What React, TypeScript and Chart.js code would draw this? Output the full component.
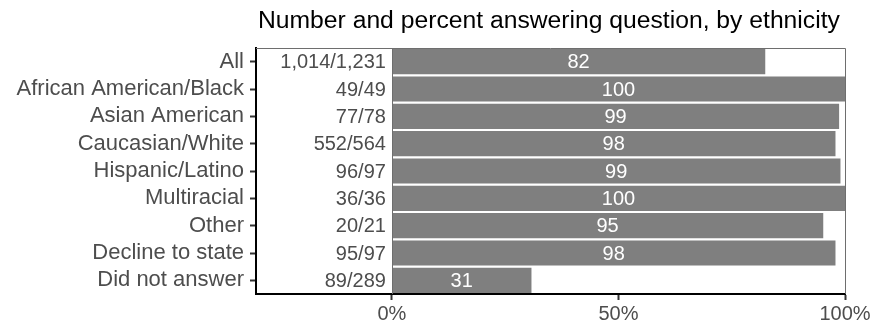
import React, { useEffect, useRef } from "react";
import { Chart, registerables } from "chart.js";

Chart.register(...registerables);

const categories = [
  "All",
  "African American/Black",
  "Asian American",
  "Caucasian/White",
  "Hispanic/Latino",
  "Multiracial",
  "Other",
  "Decline to state",
  "Did not answer",
];
const percentValues = [82.4, 100, 98.7, 97.9, 99.0, 100, 95.2, 97.9, 30.8];
const percentLabels = ["82", "100", "99", "98", "99", "100", "95", "98", "31"];
const countLabels = [
  "1,014/1,231",
  "49/49",
  "77/78",
  "552/564",
  "96/97",
  "36/36",
  "20/21",
  "95/97",
  "89/289",
];
const xTicks = [0, 50, 100];
const titleText = "Number and percent answering question, by ethnicity";

const FONT = "'Liberation Sans', Arial, Helvetica, sans-serif";
const YLABEL_SIZE = 22;
const NUM_SIZE = 20;
const TITLE_SIZE = 24.7;

const overlayPlugin = {
  id: "overlay",
  afterDatasetsDraw(chart: any) {
    const { ctx, chartArea, scales } = chart;
    const xs = scales.x;
    const ys = scales.y;
    ctx.save();
    ctx.strokeStyle = "#6e6e6e";
    ctx.lineWidth = 1;
    ctx.beginPath();
    ctx.moveTo(chartArea.left, chartArea.top + 0.5);
    ctx.lineTo(chartArea.right + 0.5, chartArea.top + 0.5);
    ctx.lineTo(chartArea.right + 0.5, chartArea.bottom);
    const x0 = Math.round(xs.getPixelForValue(0)) + 0.5;
    ctx.moveTo(x0, chartArea.top);
    ctx.lineTo(x0, chartArea.bottom);
    ctx.stroke();

    ctx.font = `${NUM_SIZE}px ${FONT}`;
    ctx.textBaseline = "middle";
    categories.forEach((_, i) => {
      const y = ys.getPixelForValue(i);
      ctx.fillStyle = "#4d4d4d";
      ctx.textAlign = "right";
      ctx.fillText(countLabels[i], xs.getPixelForValue(0) - 6, y + 1);
      ctx.fillStyle = "#ffffff";
      ctx.textAlign = "center";
      ctx.fillText(percentLabels[i], xs.getPixelForValue(percentValues[i] / 2), y + 1);
    });
    ctx.restore();
  },
  afterDraw(chart: any) {
    const { ctx, chartArea } = chart;
    ctx.save();
    ctx.font = `${TITLE_SIZE}px ${FONT}`;
    ctx.fillStyle = "#000000";
    ctx.textAlign = "left";
    ctx.textBaseline = "alphabetic";
    ctx.fillText(titleText, chartArea.left + 2, 28);
    ctx.restore();
  },
};

export default function App() {
  const canvasRef = useRef<HTMLCanvasElement | null>(null);

  useEffect(() => {
    document.body.style.margin = "0";
    const canvas = canvasRef.current;
    if (!canvas) return;
    const chart = new Chart(canvas, {
      type: "bar",
      data: {
        labels: categories,
        datasets: [
          {
            data: percentValues,
            backgroundColor: "#7f7f7f",
            borderWidth: 0,
            barPercentage: 0.92,
            categoryPercentage: 1,
          },
        ],
      },
      options: {
        indexAxis: "y",
        responsive: false,
        maintainAspectRatio: false,
        animation: false,
        layout: { padding: { top: 48, right: 32, left: 0, bottom: 0 } },
        plugins: {
          legend: { display: false },
          title: { display: false },
          tooltip: { enabled: false },
        },
        scales: {
          x: {
            type: "linear",
            min: -30,
            max: 100,
            afterBuildTicks(scale: any) {
              scale.ticks = xTicks.map((v) => ({ value: v }));
            },
            afterFit(scale: any) {
              scale.height = 32;
            },
            grid: {
              display: true,
              drawOnChartArea: false,
              drawTicks: true,
              tickLength: 6,
              tickColor: "#333333",
              tickWidth: 2,
            },
            border: { display: true, color: "#000000", width: 2 },
            ticks: {
              color: "#4d4d4d",
              font: { family: FONT, size: NUM_SIZE },
              padding: 2,
              maxRotation: 0,
              callback: (v: any) => `${v}%`,
            },
          },
          y: {
            type: "category",
            afterFit(scale: any) {
              scale.width = 256;
            },
            grid: {
              display: true,
              drawOnChartArea: false,
              drawTicks: true,
              tickLength: 6,
              tickColor: "#333333",
              tickWidth: 2,
              offset: false,
            },
            border: { display: true, color: "#000000", width: 2 },
            ticks: {
              color: "#4d4d4d",
              font: { family: FONT, size: YLABEL_SIZE },
              padding: 6,
              autoSkip: false,
            },
          },
        },
      },
      plugins: [overlayPlugin],
    });
    return () => chart.destroy();
  }, []);

  return (
    <div style={{ width: 877, height: 326, background: "#ffffff" }}>
      <canvas ref={canvasRef} width={877} height={326} style={{ display: "block" }} />
    </div>
  );
}
